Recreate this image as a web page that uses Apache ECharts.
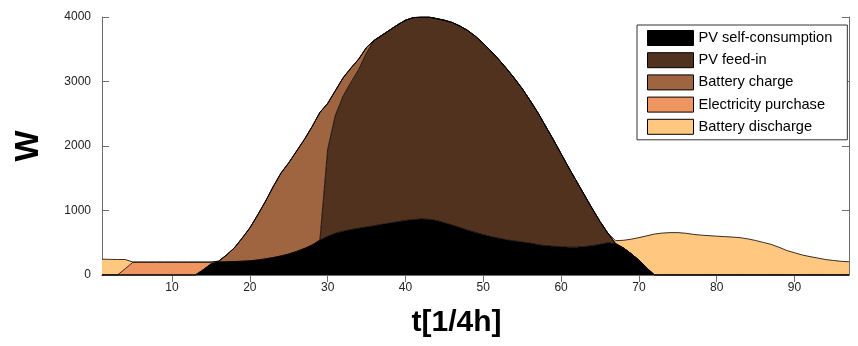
<!DOCTYPE html>
<html>
<head>
<meta charset="utf-8">
<script src="https://cdn.jsdelivr.net/npm/echarts@6/dist/echarts.min.js"></script>
<style>
  html, body { margin: 0; padding: 0; background: #fff; }
  #chart { width: 858px; height: 346px; }
</style>
</head>
<body>
<div id="chart"></div>
<script>
// time steps, quarter hours 1..97
const t = [];
for (let i = 1; i <= 97; i++) t.push(i);

const names = ["PV self-consumption", "PV feed-in", "Battery charge", "Electricity purchase", "Battery discharge"];
const colors = ["#000000", "#50321f", "#9f6440", "#ef955f", "#ffc77f"];

// W, one value per quarter hour (rows of 10)
const selfUse = [
  0, 0, 0, 0, 0, 0, 0, 0, 0, 0,
  0, 0, 0, 80, 170, 200, 205, 208, 213, 220,
  232, 250, 270, 295, 325, 365, 410, 465, 540, 600,
  648, 680, 705, 725, 745, 765, 785, 805, 825, 845,
  860, 868, 865, 845, 810, 775, 735, 695, 660, 625,
  595, 570, 545, 528, 510, 495, 470, 455, 445, 438,
  430, 432, 440, 455, 475, 500, 485, 420, 330, 230,
  110, 0, 0, 0, 0, 0, 0, 0, 0, 0,
  0, 0, 0, 0, 0, 0, 0, 0, 0, 0,
  0, 0, 0, 0, 0, 0, 0
];
const feedIn = [
  0, 0, 0, 0, 0, 0, 0, 0, 0, 0,
  0, 0, 0, 0, 0, 0, 0, 0, 0, 0,
  0, 0, 0, 0, 0, 0, 0, 0, 0, 1350,
  1832, 2100, 2285, 2465, 2700, 2875, 2935, 2995, 3055, 3105,
  3130, 3132, 3135, 3130, 3140, 3140, 3125, 3095, 3040, 2965,
  2875, 2770, 2655, 2522, 2380, 2215, 2050, 1855, 1655, 1442,
  1230, 1018, 800, 575, 355, 150, 0, 0, 0, 0,
  0, 0, 0, 0, 0, 0, 0, 0, 0, 0,
  0, 0, 0, 0, 0, 0, 0, 0, 0, 0,
  0, 0, 0, 0, 0, 0, 0
];
const charge = [
  0, 0, 0, 0, 0, 0, 0, 0, 0, 0,
  0, 0, 0, 0, 0, 15, 105, 212, 357, 510,
  698, 890, 1100, 1285, 1415, 1555, 1690, 1835, 1980, 710,
  380, 280, 220, 160, 85, 0, 0, 0, 0, 0,
  0, 0, 0, 0, 0, 0, 0, 0, 0, 0,
  0, 0, 0, 0, 0, 0, 0, 0, 0, 0,
  0, 0, 0, 0, 0, 0, 0, 0, 0, 0,
  0, 0, 0, 0, 0, 0, 0, 0, 0, 0,
  0, 0, 0, 0, 0, 0, 0, 0, 0, 0,
  0, 0, 0, 0, 0, 0, 0
];
const purchase = [
  0, 0, 0, 100, 200, 200, 200, 200, 200, 200,
  200, 200, 200, 120, 30, 0, 0, 0, 0, 0,
  0, 0, 0, 0, 0, 0, 0, 0, 0, 0,
  0, 0, 0, 0, 0, 0, 0, 0, 0, 0,
  0, 0, 0, 0, 0, 0, 0, 0, 0, 0,
  0, 0, 0, 0, 0, 0, 0, 0, 0, 0,
  0, 0, 0, 0, 0, 0, 0, 0, 0, 0,
  0, 0, 0, 0, 0, 0, 0, 0, 0, 0,
  0, 0, 0, 0, 0, 0, 0, 0, 0, 0,
  0, 0, 0, 0, 0, 0, 0
];
const discharge = [
  245, 243, 240, 140, 0, 0, 0, 0, 0, 0,
  0, 0, 0, 0, 0, 0, 0, 0, 0, 0,
  0, 0, 0, 0, 0, 0, 0, 0, 0, 0,
  0, 0, 0, 0, 0, 0, 0, 0, 0, 0,
  0, 0, 0, 0, 0, 0, 0, 0, 0, 0,
  0, 0, 0, 0, 0, 0, 0, 0, 0, 0,
  0, 0, 0, 0, 0, 0, 47, 118, 225, 350,
  497, 635, 650, 657, 657, 648, 630, 618, 610, 602,
  595, 588, 579, 560, 535, 505, 475, 430, 380, 345,
  310, 285, 262, 240, 225, 212, 205
];

const seriesData = [selfUse, feedIn, charge, purchase, discharge];

const font = "Liberation Sans, Arial, sans-serif";
const axisGray = "#6e6e6e";
const tickEvery10 = (index, value) => Number(value) % 10 === 0;

const chart = echarts.init(document.getElementById("chart"));

const option = {
  animation: false,
  backgroundColor: "#fff",
  grid: { left: 102, right: 9, top: 17, bottom: 71 },
  legend: {
    orient: "vertical",
    left: 637,
    top: 25,
    padding: [5, 15, 5, 10],
    itemWidth: 46,
    itemHeight: 15,
    itemGap: 6.2,
    icon: "rect",
    backgroundColor: "#fff",
    borderColor: "#333",
    borderWidth: 1,
    borderRadius: 0,
    selectedMode: false,
    textStyle: { fontFamily: font, fontSize: 14.6, lineHeight: 15, color: "#000" },
    data: names.map((n, i) => ({
      name: n,
      itemStyle: { color: colors[i], borderColor: "#000", borderWidth: 1 }
    }))
  },
  xAxis: [
    {
      type: "category",
      data: t,
      boundaryGap: false,
      name: "t[1/4h]",
      nameLocation: "middle",
      nameGap: 33,
      nameTextStyle: {
        fontFamily: font, fontSize: 30, fontWeight: "bold", color: "#000",
        padding: [0, 38, 0, 0]
      },
      axisLine: { show: true, lineStyle: { color: axisGray, width: 1 } },
      axisTick: { show: true, inside: true, length: 7, interval: tickEvery10, lineStyle: { color: axisGray } },
      axisLabel: { interval: tickEvery10, margin: 7, fontFamily: font, fontSize: 12, color: "#222" },
      splitLine: { show: false }
    },
    {
      type: "category",
      data: t,
      boundaryGap: false,
      position: "top",
      axisLine: { show: true, lineStyle: { color: axisGray, width: 1 } },
      axisTick: { show: true, inside: true, length: 7, interval: tickEvery10, lineStyle: { color: axisGray } },
      axisLabel: { show: false },
      splitLine: { show: false }
    }
  ],
  yAxis: [
    {
      type: "value",
      min: 0,
      max: 4000,
      interval: 1000,
      name: "W",
      nameLocation: "middle",
      nameRotate: 90,
      nameGap: 57,
      nameTextStyle: { fontFamily: font, fontSize: 33, fontWeight: "bold", color: "#000" },
      axisLine: { show: true, lineStyle: { color: axisGray, width: 1 } },
      axisTick: { show: true, inside: true, length: 7, lineStyle: { color: axisGray } },
      axisLabel: { margin: 11, fontFamily: font, fontSize: 12, color: "#222", formatter: (v) => String(v) },
      splitLine: { show: false }
    },
    {
      type: "value",
      min: 0,
      max: 4000,
      interval: 1000,
      position: "right",
      axisLine: { show: true, lineStyle: { color: axisGray, width: 1 } },
      axisTick: { show: true, inside: true, length: 7, lineStyle: { color: axisGray } },
      axisLabel: { show: false },
      splitLine: { show: false }
    }
  ],
  series: names.map((n, i) => ({
    name: n,
    type: "line",
    stack: "energy",
    xAxisIndex: 0,
    yAxisIndex: 0,
    data: seriesData[i],
    showSymbol: false,
    symbol: "none",
    color: colors[i],
    itemStyle: { color: colors[i] },
    lineStyle: { color: "#000", width: 0.8 },
    areaStyle: { color: colors[i], opacity: 1 },
    emphasis: { disabled: true },
    z: 2
  }))
};

chart.setOption(option);
</script>
</body>
</html>
